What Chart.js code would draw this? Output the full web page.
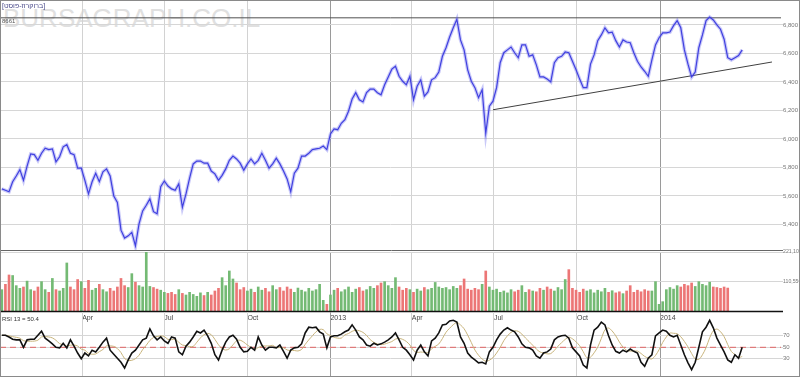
<!DOCTYPE html>
<html>
<head>
<meta charset="utf-8">
<script src="https://cdn.jsdelivr.net/npm/chart.js@4.4.1/dist/chart.umd.min.js"></script>
<style>
body { margin: 0; background: #fff; }
#wrap { position: relative; width: 800px; height: 377px; overflow: hidden; font-family: 'Liberation Sans', Arial, sans-serif; }
#wrap canvas { position: absolute; left: 0; top: 0; }
.frame { position: absolute; left: 0; top: 0; width: 798px; height: 375px; border: 1px solid #8a8a8a; }
.wm { position: absolute; left: 3px; top: 3px; font-size: 26px; color: #e0e0e0; }
.lbl { position: absolute; font-size: 7px; color: #555; white-space: nowrap; }
</style>
</head>
<body>
<div id="wrap">
  <div class="wm">BURSAGRAPH.CO.IL</div>
  <canvas id="cPrice" width="800" height="377"></canvas>
  <canvas id="cVol" width="800" height="377"></canvas>
  <canvas id="cRsi" width="800" height="377"></canvas>
  <div class="lbl" style="left:2px;top:2px;color:#4a4a8a">[ברוקרוז-פוסט]</div>
  <div class="lbl" style="left:2px;top:18px;font-size:6px">8661</div>
  <div class="lbl" style="left:2px;top:316px;font-size:6px;color:#333">RSI 13 = 50.4</div>
  <div class="frame"></div>
</div>
<script>
// dias desde 1/1/2012, un dato cada 4 dias
const DAY0 = 2, STEP = 4, X_MAX = 865;

const tickDays = [91, 182, 274, 366, 456, 547, 639, 731];
const tickLabels = ['Apr', 'Jul', 'Oct', '2013', 'Apr', 'Jul', 'Oct', '2014'];
const yearTicks = [366, 731];

const priceTicks = [5400, 5600, 5800, 6000, 6200, 6400, 6600, 6800];
const volTicks = [110.55, 221.1];   // miles
const rsiTicks = [30, 50, 70];

const closes = [
  5650, 5640, 5630, 5700, 5740, 5785, 5710, 5810, 5895, 5890,
  5850, 5900, 5935, 5925, 5930, 5840, 5875, 5945, 5960, 5900,
  5890, 5795, 5795, 5710, 5615, 5700, 5760, 5700, 5770, 5790,
  5740, 5600, 5555, 5360, 5305, 5320, 5345, 5250, 5405, 5495,
  5535, 5580, 5490, 5475, 5665, 5705, 5670, 5650, 5640, 5685,
  5520, 5615, 5725, 5825, 5845, 5845, 5830, 5830, 5775, 5755,
  5710, 5745, 5790, 5850, 5880, 5860, 5830, 5780, 5825, 5860,
  5825, 5850, 5900, 5850, 5795, 5825, 5865, 5825, 5775, 5720,
  5630, 5760, 5795, 5880, 5880, 5900, 5925, 5930, 5935, 5950,
  5925, 6035, 6070, 6065, 6110, 6135, 6195, 6280, 6325, 6275,
  6260, 6325, 6350, 6350, 6325, 6310, 6380, 6435, 6490, 6510,
  6440, 6405, 6380, 6440, 6275, 6370, 6415, 6300, 6330, 6415,
  6430, 6470, 6580, 6640, 6715, 6780, 6840, 6695, 6625, 6485,
  6405, 6360, 6290, 6345, 6040, 6230, 6265, 6360, 6535, 6605,
  6625, 6645, 6605, 6570, 6660, 6660, 6580, 6590, 6520, 6435,
  6435, 6420, 6400, 6535, 6570, 6580, 6610, 6605, 6545, 6485,
  6420, 6360, 6360, 6525, 6590, 6690, 6730, 6780, 6745, 6750,
  6690, 6645, 6695, 6680, 6675, 6605, 6545, 6505, 6475, 6440,
  6555, 6660, 6710, 6745, 6745, 6750, 6795, 6830, 6780, 6625,
  6525, 6435, 6470, 6640, 6730, 6830, 6855, 6835, 6800, 6770,
  6700, 6570, 6555, 6570, 6585, 6625
];

const volumes = [
  80, 100, 135, 133, 95, 85, 90, 112, 80, 75,
  90, 110, 80, 70, 122, 80, 75, 85, 180, 90,
  80, 118, 110, 85, 115, 78, 85, 100, 80, 72,
  85, 75, 90, 122, 95, 88, 140, 108, 95, 90,
  220, 92, 88, 82, 78, 70, 66, 70, 62, 80,
  66, 60, 70, 62, 55, 68, 58, 70, 60, 75,
  85, 125, 95, 150, 120, 105, 80, 88, 75, 82,
  70, 90, 78, 85, 72, 95, 80, 88, 75, 90,
  82, 70, 86, 78, 72, 85, 75, 80, 100, 40,
  25, 60, 78, 85, 72, 80, 90, 70, 82, 88,
  75, 80, 92, 85, 95, 105, 110, 95, 85, 125,
  90, 78, 85, 80, 70, 82, 75, 88, 80, 85,
  107, 90, 85, 88, 80, 92, 85, 95, 120, 82,
  78, 85, 80, 100, 150, 90, 78, 82, 70, 75,
  68, 80, 72, 78, 95, 70, 80, 75, 72, 85,
  78, 90, 82, 75, 88, 80, 118, 155, 85, 78,
  70, 82, 75, 80, 68, 78, 72, 85, 70, 76,
  68, 72, 65, 75, 95, 70, 78, 72, 80, 75,
  75, 110, 25, 35, 80, 88, 82, 95, 90, 100,
  95, 105, 92, 110, 100, 95, 108, 90, 88, 85,
  90, 86
];

const rsi = [
  71, 71, 68, 64, 63, 63, 50, 63, 64, 64,
  71, 78, 66, 61, 56, 50, 49, 57, 49, 63,
  52, 40, 30, 40, 35, 45, 42, 50, 59, 66,
  45, 38, 31, 24, 14, 28, 40, 45, 54, 63,
  66, 82, 70, 63, 68, 61, 57, 68, 66, 42,
  37, 52, 59, 68, 78, 75, 80, 70, 57, 37,
  28, 45, 59, 68, 71, 64, 50, 42, 43, 50,
  45, 68, 54, 45, 50, 50, 49, 54, 43, 31,
  45, 49, 50, 56, 75, 85, 84, 85, 77, 73,
  49, 68, 70, 70, 73, 77, 80, 89, 80, 68,
  63, 54, 52, 57, 54, 56, 59, 63, 68, 75,
  63, 50, 45, 37, 28, 45, 54, 42, 35, 61,
  66, 75, 89, 90, 96, 97, 94, 68, 57, 40,
  33, 28, 23, 24, 21, 42, 50, 63, 73, 80,
  84, 80, 77, 68, 56, 50, 49, 45, 35, 31,
  40, 42, 47, 63, 68, 70, 71, 66, 49, 42,
  35, 19, 14, 54, 80, 85, 94, 89, 70, 54,
  43, 40, 45, 42, 47, 43, 40, 24, 17, 31,
  37, 70, 75, 80, 78, 71, 68, 71, 54, 37,
  23, 11, 24, 50, 77, 85, 97, 84, 66, 54,
  42, 28, 24, 37, 31, 50
];

const resistance = 6850;
const trendDays = [546, 855];
const trendVals = [6205, 6540];

const dayOf = i => DAY0 + i * STEP;

// promedio de la RSI (linea de senal)
const rsiSignal = rsi.map((v, i) => {
  const part = rsi.slice(Math.max(0, i - 4), i + 1);
  return part.reduce((a, b) => a + b, 0) / part.length;
});

const volColors = volumes.map((v, i) => (i === 0 || closes[i] >= closes[i - 1]) ? '#74ba74' : '#ec7676');

function xScale(labelHeight) {
  return {
    type: 'linear', min: 0, max: X_MAX, offset: false,
    afterBuildTicks: s => { s.ticks = tickDays.map(v => ({ value: v })); },
    afterFit: s => { s.height = labelHeight; s.paddingLeft = 0; s.paddingRight = 0; },
    grid: {
      offset: false, drawTicks: false,
      color: c => (c.tick && yearTicks.includes(c.tick.value)) ? '#9a9a9a' : '#d2d2d2'
    },
    border: { display: false },
    ticks: {
      display: labelHeight > 0, align: 'start', padding: 3, autoSkip: false, maxRotation: 0,
      font: { size: 7, family: 'Liberation Sans' }, color: '#444',
      callback: (v, idx) => tickLabels[idx]
    }
  };
}

function yScale(min, max, ticks, fmt, size) {
  return {
    type: 'linear', position: 'right', min: min, max: max,
    afterBuildTicks: s => { s.ticks = ticks.map(v => ({ value: v })); },
    afterFit: s => { s.width = 19; s.paddingTop = 0; s.paddingBottom = 0; },
    grid: { color: '#d6d6d6', tickLength: 2 },
    border: { display: false },
    ticks: { padding: 0, font: { size: size, family: 'Liberation Sans' }, color: '#777', callback: fmt }
  };
}

const panelLine = {
  id: 'panelLine',
  afterDraw(chart, args, opts) {
    if (!opts.color) return;
    const a = chart.chartArea, ctx = chart.ctx;
    ctx.save();
    ctx.strokeStyle = opts.color;
    ctx.lineWidth = opts.width || 1;
    ctx.beginPath();
    ctx.moveTo(a.left, a.bottom + 0.5);
    ctx.lineTo(a.right + 2, a.bottom + 0.5);
    ctx.stroke();
    ctx.restore();
  }
};

function commonOpts(top, bottom, yCfg, labelHeight, line) {
  return {
    responsive: false, animation: false,
    layout: { padding: { top: top, bottom: bottom, left: 0, right: 0 } },
    plugins: { legend: { display: false }, tooltip: { enabled: false }, panelLine: line },
    scales: { x: xScale(labelHeight), y: yCfg }
  };
}

const fmtNum = v => Math.round(v).toLocaleString('en-US');
const pricePoints = closes.map((v, i) => ({ x: dayOf(i), y: v }));

// precio
new Chart(document.getElementById('cPrice'), {
  type: 'line',
  data: {
    datasets: [{
      data: pricePoints,
      borderColor: '#4040e0', borderWidth: 1.2, pointRadius: 0, tension: 0
    }, {
      data: pricePoints,
      borderColor: 'rgba(100,100,235,0.35)', borderWidth: 3.5, pointRadius: 0, tension: 0
    }, {
      data: [{ x: 0, y: resistance }, { x: X_MAX, y: resistance }],
      borderColor: '#505050', borderWidth: 1, pointRadius: 0
    }, {
      data: trendDays.map((d, i) => ({ x: d, y: trendVals[i] })),
      borderColor: '#404040', borderWidth: 1, pointRadius: 0
    }]
  },
  options: commonOpts(1, 127, yScale(5221, 6968, priceTicks, fmtNum, 6), 0, { color: '#666', width: 1 }),
  plugins: [panelLine]
});

// volumen
new Chart(document.getElementById('cVol'), {
  type: 'bar',
  data: {
    datasets: [{
      data: volumes.map((v, i) => ({ x: dayOf(i), y: v })),
      backgroundColor: volColors, barThickness: 2
    }]
  },
  options: commonOpts(252, 54, yScale(0, 221.1, volTicks, v => fmtNum(v * 1000), 5.2), 12, { color: '#111', width: 1.5 }),
  plugins: [panelLine]
});

// RSI
new Chart(document.getElementById('cRsi'), {
  type: 'line',
  data: {
    datasets: [{
      data: rsi.map((v, i) => ({ x: dayOf(i), y: v })),
      borderColor: '#111', borderWidth: 1.6, pointRadius: 0, tension: 0
    }, {
      data: rsiSignal.map((v, i) => ({ x: dayOf(i), y: v })),
      borderColor: '#c8b47c', borderWidth: 1, pointRadius: 0, tension: 0.3
    }, {
      data: [{ x: 0, y: 50 }, { x: X_MAX, y: 50 }],
      borderColor: '#e06464', borderWidth: 1, borderDash: [6, 4], pointRadius: 0
    }]
  },
  options: commonOpts(312, 1, yScale(0, 111.5, rsiTicks, v => String(v), 6), 0, {}),
  plugins: [panelLine]
});
</script>
</body>
</html>
